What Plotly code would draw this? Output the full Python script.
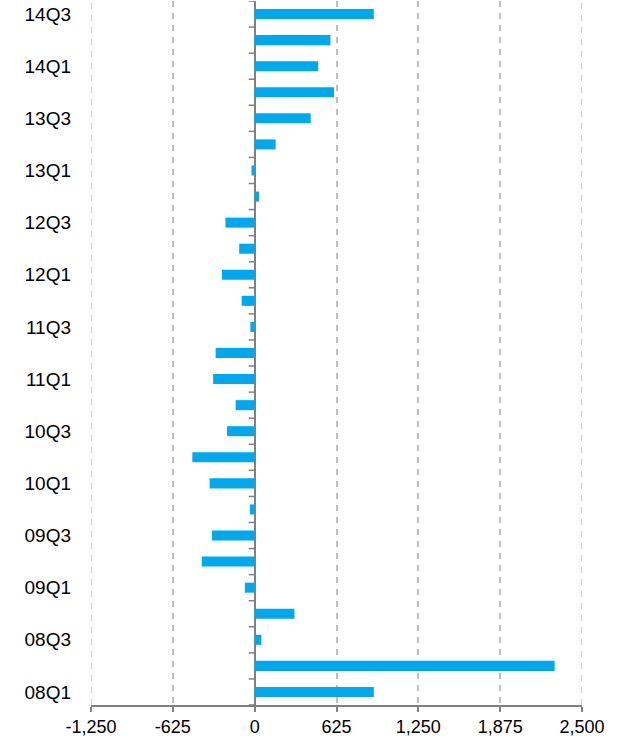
import plotly.graph_objects as go

quarters = [f"{y:02d}Q{q}" for y in range(8, 15) for q in range(1, 5)][:27]
values = [910, 2291, 51, 304, -75, -404, -326, -36, -344, -476, -211, -145,
          -317, -298, -33, -99, -250, -118, -223, 33, -24, 160, 428, 606,
          485, 579, 910]
x_ticks = [-1250, -625, 0, 625, 1250, 1875, 2500]
x_ticktext = ["-1,250", "-625", "0", "625", "1,250", "1,875", "2,500"]
y_labels = quarters[::2]

GRID = "#C0C0C0"

fig = go.Figure(go.Bar(
    x=values, y=quarters, orientation="h",
    marker=dict(color="#00A9EE", line=dict(width=0)),
))

shapes = []
# edge gridlines (plotly omits those at the range limits)
for xv in (x_ticks[0], x_ticks[-1]):
    shapes.append(dict(type="line", xref="x", yref="paper", x0=xv, x1=xv,
                       y0=0, y1=1, layer="below",
                       line=dict(color=GRID, width=1.5, dash="6px,6px")))
# small category-boundary ticks on the zero line
for i in range(len(quarters) + 1):
    shapes.append(dict(type="line", xref="x", yref="y", xsizemode="pixel",
                       xanchor=0, x0=-6, x1=0, y0=i - 0.5, y1=i - 0.5,
                       line=dict(color="#808080", width=1.5)))

fig.update_layout(
    width=619, height=740,
    margin=dict(l=91, r=37, t=1, b=35, autoexpand=False),
    plot_bgcolor="white", paper_bgcolor="white",
    bargap=0.615, showlegend=False, shapes=shapes,
    font=dict(family="Liberation Sans, Arial, sans-serif", color="#000000"),
)
fig.update_xaxes(
    range=[-1250, 2500], tickvals=x_ticks, ticktext=x_ticktext,
    showgrid=True, gridcolor=GRID, griddash="6px,6px", gridwidth=1.5,
    zeroline=True, zerolinecolor="#808080", zerolinewidth=2,
    showline=True, linecolor="#808080", linewidth=1.5,
    ticks="outside", ticklen=5, tickcolor="#808080", tickwidth=1.5,
    tickfont=dict(size=18),
)
fig.update_yaxes(
    categoryorder="array", categoryarray=quarters,
    range=[-0.5, 26.5], tickvals=y_labels, ticks="",
    showgrid=False, zeroline=False, showline=False,
    tickfont=dict(size=19), ticklabelstandoff=19,
)

fig.write_html("out.html", config={"displayModeBar": False})
with open("out.html", encoding="utf-8") as f:
    html = f.read()
html = html.replace("<head>", "<head><style>html,body{margin:0;padding:0;}</style>", 1)
with open("out.html", "w", encoding="utf-8") as f:
    f.write(html)
